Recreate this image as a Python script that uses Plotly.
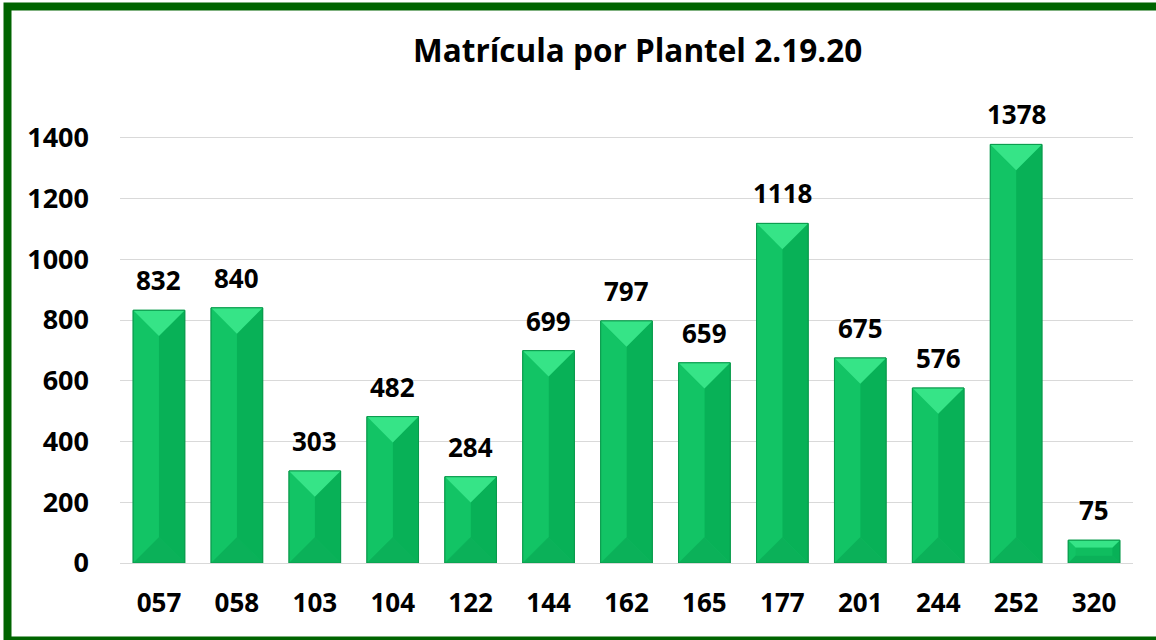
import plotly.graph_objects as go

categories = ["057", "058", "103", "104", "122", "144", "162", "165", "177", "201", "244", "252", "320"]
values = [832, 840, 303, 482, 284, 699, 797, 659, 1118, 675, 576, 1378, 75]
y_ticks = [0, 200, 400, 600, 800, 1000, 1200, 1400]
title_text = "Matrícula por Plantel 2.19.20"

W, H = 1156, 640
ML, MR, MT, MB = 120, 23, 77, 77
YMAX = 1600
BAR_W = 0.662
FONT = "'Open Sans', Lato, sans-serif"

plot_w = W - ML - MR
plot_h = H - MT - MB
px_x = plot_w / len(categories)
px_y = plot_h / YMAX

xs = list(range(len(categories)))

fig = go.Figure()
fig.add_trace(go.Bar(
    x=xs, y=values, width=BAR_W,
    marker=dict(color="#10C061", line=dict(color="#0A9C4D", width=1)),
    hoverinfo="x+y",
))

shapes = []
C_TOP = "#36E487"
C_LEFT = "#12C465"
C_RIGHT = "#08B157"
C_BOT = "#0BB159"
C_FRONT = "#0FBD5F"

def path(pts):
    return "M " + " L ".join(f"{a},{b}" for a, b in pts) + " Z"

for i, v in enumerate(values):
    x0, x1 = i - BAR_W / 2, i + BAR_W / 2
    w_px = BAR_W * px_x
    h_px = v * px_y
    d_px = min(w_px / 2, h_px / 3)
    dx = d_px / px_x
    dy = d_px / px_y
    top, bot = v, 0
    faces = [
        (C_RIGHT, [(x1, top), (x1 - dx, top - dy), (x1 - dx, bot + dy), (x1, bot)]),
        (C_LEFT, [(x0, top), (x0 + dx, top - dy), (x0 + dx, bot + dy), (x0, bot)]),
        (C_BOT, [(x0, bot), (x1, bot), (x1 - dx, bot + dy), (x0 + dx, bot + dy)]),
        (C_TOP, [(x0, top), (x1, top), (x1 - dx, top - dy), (x0 + dx, top - dy)]),
    ]
    if x1 - dx > x0 + dx + 1e-6:
        faces.append((C_FRONT, [(x0 + dx, top - dy), (x1 - dx, top - dy), (x1 - dx, bot + dy), (x0 + dx, bot + dy)]))
    for col, pts in faces:
        shapes.append(dict(type="path", path=path(pts), xref="x", yref="y",
                           fillcolor=col, line=dict(width=0), layer="above"))
    shapes.append(dict(type="rect", x0=x0, x1=x1, y0=0, y1=v, xref="x", yref="y",
                       line=dict(color="#0A9A4C", width=1), fillcolor="rgba(0,0,0,0)", layer="above"))

# outer frame (left, top and bottom edges visible; right edge beyond the image)
fx0 = (7.5 - ML) / plot_w
fx1 = (1220 - ML) / plot_w
fy1 = (H - MB - 6.5) / plot_h
fy0 = (H - MB - 640.5) / plot_h
shapes.append(dict(type="rect", xref="paper", yref="paper", x0=fx0, x1=fx1, y0=fy0, y1=fy1,
                   line=dict(color="#006400", width=8), fillcolor="rgba(0,0,0,0)", layer="above"))

annotations = []
for i, v in enumerate(values):
    annotations.append(dict(x=i, y=v, text=str(v), showarrow=False, xref="x", yref="y",
                            yanchor="bottom", yshift=10,
                            font=dict(family=FONT, size=26, color="#000000", weight="bold")))
annotations.append(dict(x=(637 - ML) / plot_w, y=(H - MB - 50) / plot_h, xref="paper", yref="paper",
                        text=title_text, showarrow=False, xanchor="center", yanchor="middle",
                        font=dict(family=FONT, size=31.5, color="#000000", weight="bold")))

fig.update_layout(
    width=W, height=H,
    margin=dict(l=ML, r=MR, t=MT, b=MB),
    paper_bgcolor="white", plot_bgcolor="white",
    showlegend=False,
    shapes=shapes,
    annotations=annotations,
    xaxis=dict(
        range=[-0.5, len(categories) - 0.5],
        tickvals=xs, ticktext=categories,
        showgrid=False, zeroline=False, showline=False, ticks="",
        ticklabelstandoff=22,
        tickfont=dict(family=FONT, size=26, color="#000000", weight="bold"),
    ),
    yaxis=dict(
        range=[0, YMAX],
        tickvals=y_ticks,
        showgrid=True, gridcolor="#D9D9D9", gridwidth=1,
        zeroline=True, zerolinecolor="#D9D9D9", zerolinewidth=1,
        showline=False, ticks="",
        ticklabelstandoff=30,
        tickfont=dict(family=FONT, size=27, color="#000000", weight="bold"),
    ),
)

fig.write_html("out.html", config={"displayModeBar": False},
               post_script="document.body.style.margin='0';document.body.style.overflow='hidden';")
